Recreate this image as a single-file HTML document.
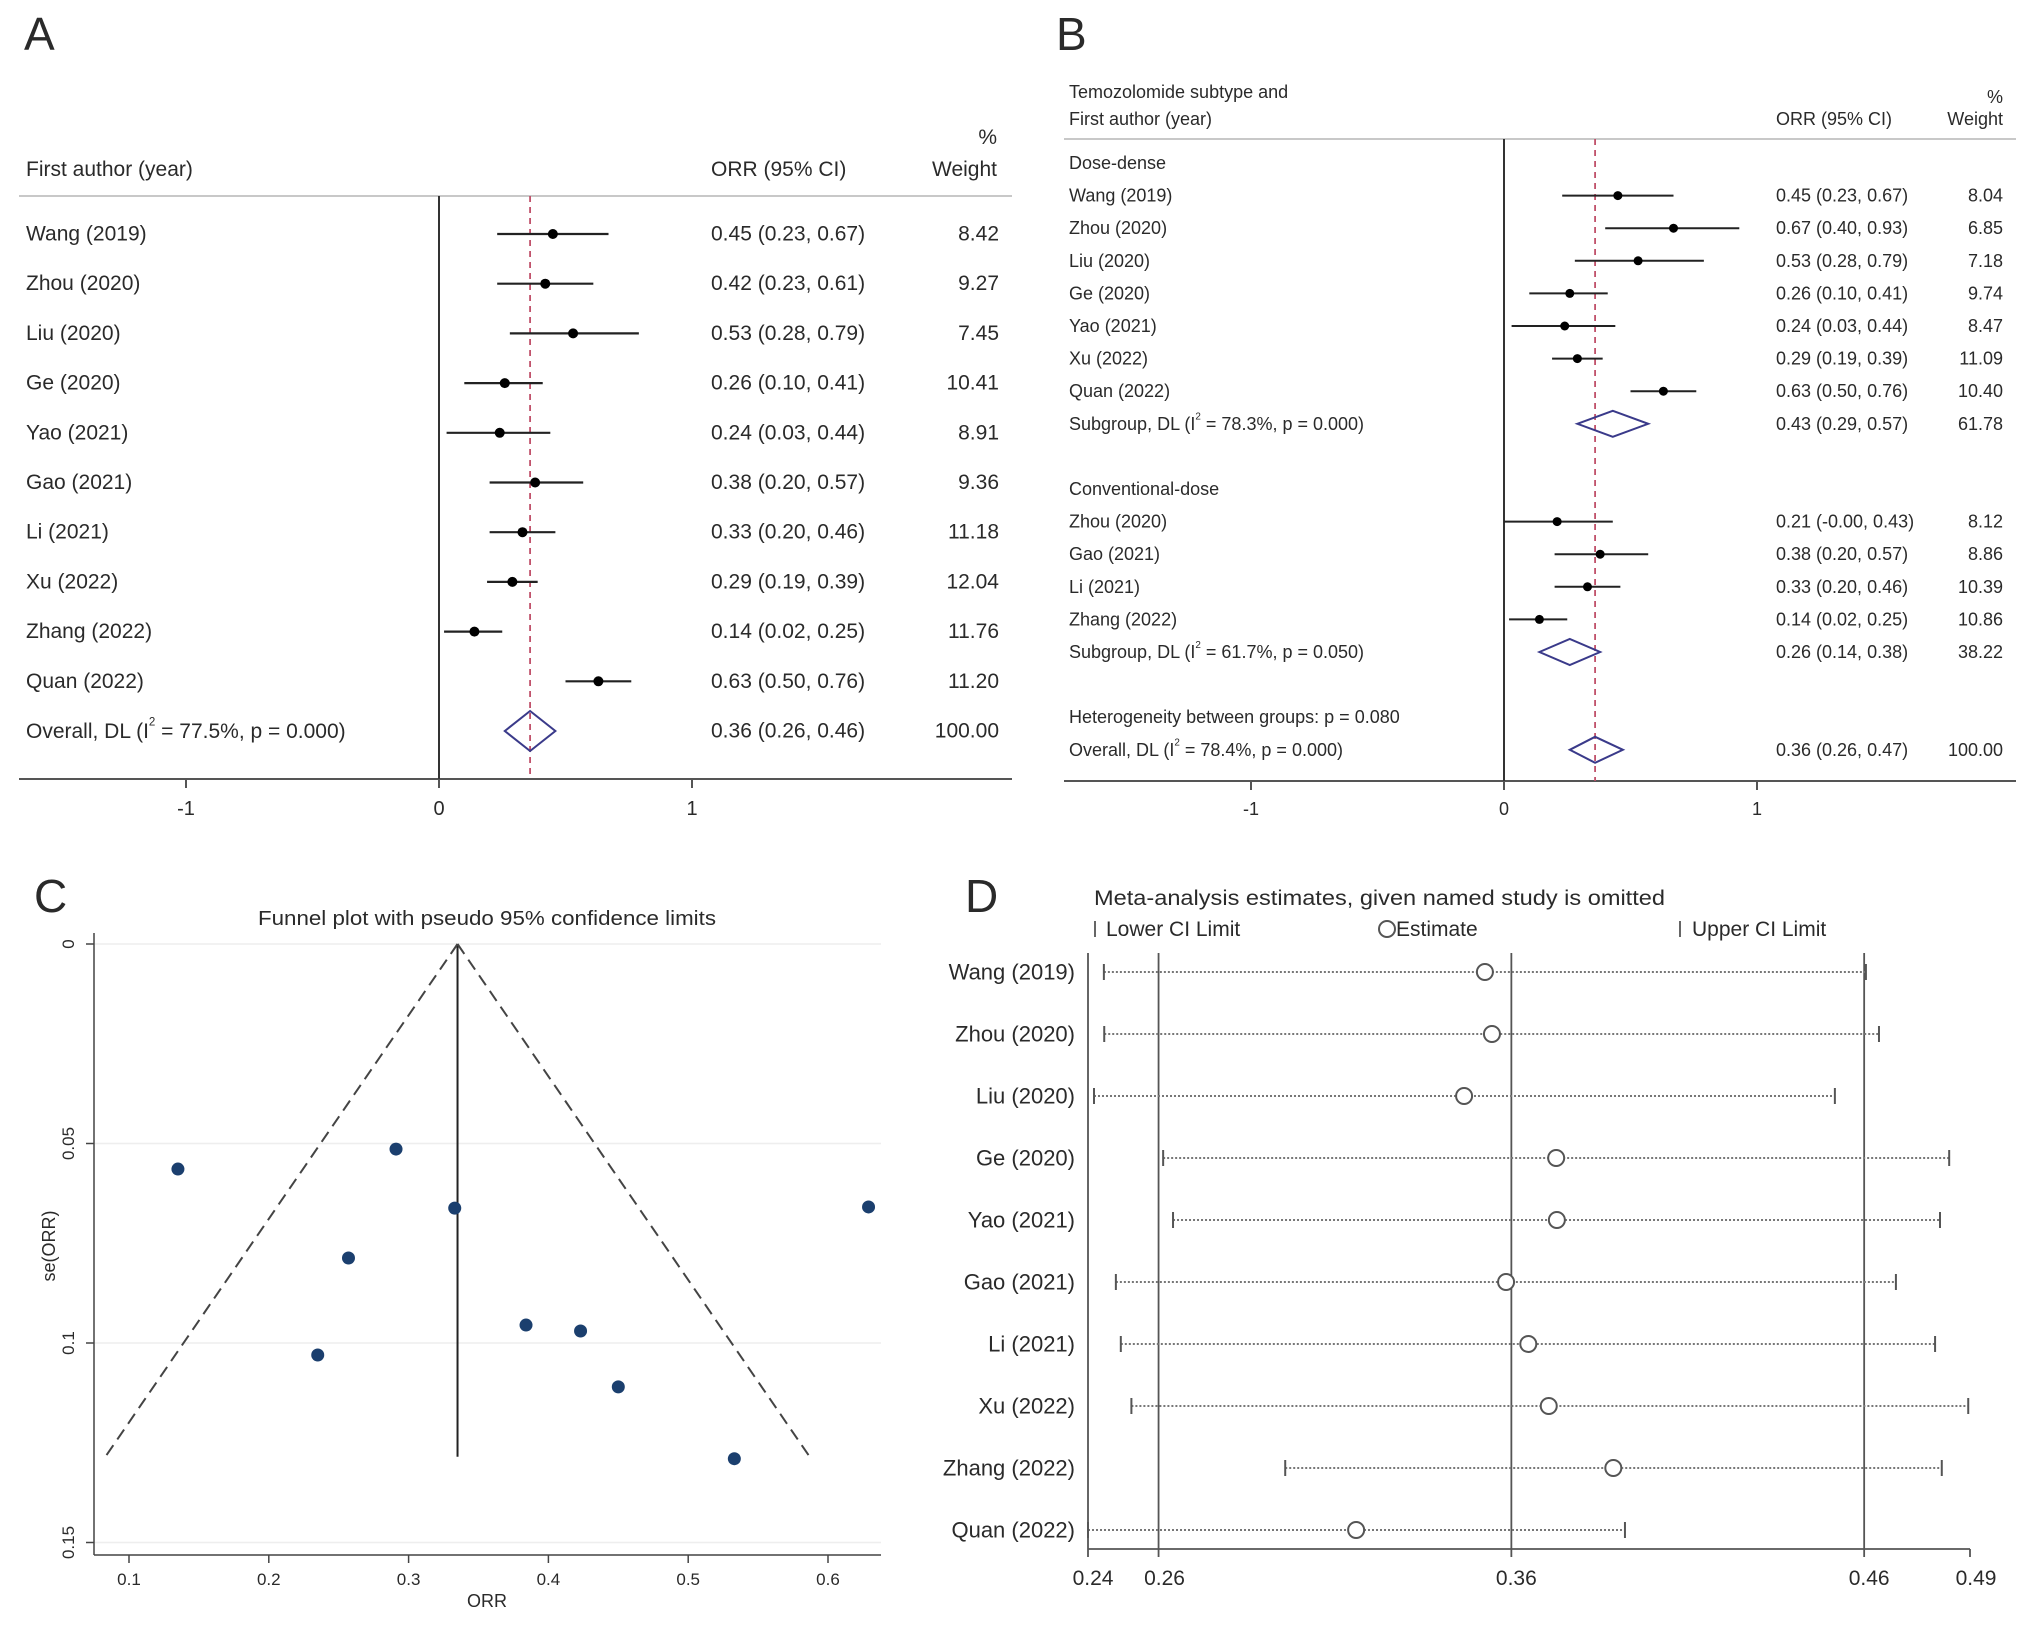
<!DOCTYPE html>
<html><head><meta charset="utf-8">
<style>
html,body{margin:0;padding:0;background:#fff;}
svg{display:block;font-family:"Liberation Sans",Arial,sans-serif;}
text{fill:#2a2a2a;}
</style></head>
<body>
<svg id="fig" width="2031" height="1625" viewBox="0 0 2031 1625" xmlns="http://www.w3.org/2000/svg">
  <rect x="0" y="0" width="2031" height="1625" fill="#fff"/>
  <!-- Panel A static -->
  <g id="pA">
    <text x="24" y="50" font-size="46" fill="#000">A</text>
    <text x="26" y="176" font-size="21">First author (year)</text>
    <text x="711" y="176" font-size="21">ORR (95% CI)</text>
    <text x="997" y="144" font-size="21" text-anchor="end">%</text>
    <text x="997" y="176" font-size="21" text-anchor="end">Weight</text>
    <line x1="19" y1="196" x2="1012" y2="196" stroke="#c8c8c8" stroke-width="2"/>
    <line x1="19" y1="779" x2="1012" y2="779" stroke="#555" stroke-width="2"/>
  </g>
  <!-- Panel B static -->
  <g id="pB">
    <text x="1056" y="50" font-size="46" fill="#000">B</text>
    <text x="1069" y="98" font-size="18">Temozolomide subtype and</text>
    <text x="1069" y="125" font-size="18">First author (year)</text>
    <text x="1776" y="125" font-size="18">ORR (95% CI)</text>
    <text x="2003" y="103" font-size="18" text-anchor="end">%</text>
    <text x="2003" y="125" font-size="18" text-anchor="end">Weight</text>
    <line x1="1064" y1="139" x2="2016" y2="139" stroke="#c8c8c8" stroke-width="2"/>
    <line x1="1064" y1="781" x2="2016" y2="781" stroke="#555" stroke-width="2"/>
  </g>
  <!-- Panel C static -->
  <g id="pC">
    <text x="34" y="912" font-size="46" fill="#000">C</text>
    <text x="487" y="925" font-size="20" text-anchor="middle" textLength="458" lengthAdjust="spacingAndGlyphs">Funnel plot with pseudo 95% confidence limits</text>
    <text x="487" y="1607" font-size="18" text-anchor="middle">ORR</text>
    <text x="0" y="0" font-size="18" text-anchor="middle" transform="translate(55,1246) rotate(-90)">se(ORR)</text>
  </g>
  <!-- Panel D static -->
  <g id="pD">
    <text x="965" y="912" font-size="46" fill="#000">D</text>
    <text x="1094" y="905" font-size="21" textLength="571" lengthAdjust="spacingAndGlyphs">Meta-analysis estimates, given named study is omitted</text>
    <line x1="1095" y1="921" x2="1095" y2="937" stroke="#666" stroke-width="2"/>
    <text x="1106" y="936" font-size="21">Lower CI Limit</text>
    <circle cx="1387" cy="929" r="8" fill="none" stroke="#555" stroke-width="2"/>
    <text x="1396" y="936" font-size="21">Estimate</text>
    <line x1="1680" y1="921" x2="1680" y2="937" stroke="#666" stroke-width="2"/>
    <text x="1692" y="936" font-size="21">Upper CI Limit</text>
  </g>
</svg>
<script>
// ---------- DATA ----------
const aStudies = ["Wang (2019)","Zhou (2020)","Liu (2020)","Ge (2020)","Yao (2021)","Gao (2021)","Li (2021)","Xu (2022)","Zhang (2022)","Quan (2022)"];
const aEst = [0.45,0.42,0.53,0.26,0.24,0.38,0.33,0.29,0.14,0.63];
const aLo  = [0.23,0.23,0.28,0.10,0.03,0.20,0.20,0.19,0.02,0.50];
const aHi  = [0.67,0.61,0.79,0.41,0.44,0.57,0.46,0.39,0.25,0.76];
const aWt  = [8.42,9.27,7.45,10.41,8.91,9.36,11.18,12.04,11.76,11.20];
const aOverall = [0.36,0.26,0.46,100.00];
const aOverallLabel = "77.5%, p = 0.000";
const forestTicks = [-1,0,1];

const b1Studies = ["Wang (2019)","Zhou (2020)","Liu (2020)","Ge (2020)","Yao (2021)","Xu (2022)","Quan (2022)"];
const b1Est = [0.45,0.67,0.53,0.26,0.24,0.29,0.63];
const b1Lo  = [0.23,0.40,0.28,0.10,0.03,0.19,0.50];
const b1Hi  = [0.67,0.93,0.79,0.41,0.44,0.39,0.76];
const b1Wt  = [8.04,6.85,7.18,9.74,8.47,11.09,10.40];
const b1Sub = [0.43,0.29,0.57,61.78];
const b2Studies = ["Zhou (2020)","Gao (2021)","Li (2021)","Zhang (2022)"];
const b2Est = [0.21,0.38,0.33,0.14];
const b2Lo  = [-0.00,0.20,0.20,0.02];
const b2Hi  = [0.43,0.57,0.46,0.25];
const b2Wt  = [8.12,8.86,10.39,10.86];
const b2Sub = [0.26,0.14,0.38,38.22];
const bOverall = [0.36,0.26,0.47,100.00];

const funnelOrr = [0.135,0.291,0.333,0.257,0.235,0.384,0.423,0.450,0.533,0.629];
const funnelSe  = [0.0564,0.0514,0.0662,0.0787,0.103,0.0955,0.097,0.111,0.129,0.0659];
const funnelPooled = 0.335;
const funnelSeMax = 0.1285;
const funnelXTicks = [0.1,0.2,0.3,0.4,0.5,0.6];
const funnelYTicks = [0,0.05,0.1,0.15];

const dStudies = ["Wang (2019)","Zhou (2020)","Liu (2020)","Ge (2020)","Yao (2021)","Gao (2021)","Li (2021)","Xu (2022)","Zhang (2022)","Quan (2022)"];
const dLower = [0.2445,0.2446,0.2417,0.2613,0.2641,0.2479,0.2493,0.2523,0.2959,0.2400];
const dEst   = [0.3525,0.3545,0.3466,0.3727,0.3729,0.3585,0.3648,0.3706,0.3889,0.3160];
const dUpper = [0.4605,0.4642,0.4517,0.4841,0.4815,0.4690,0.4801,0.4895,0.4820,0.3922];
const dRefLines = [0.24,0.26,0.36,0.46];
const dTicks = [0.24,0.26,0.36,0.46,0.49];

// ---------- HELPERS ----------
const NS = "http://www.w3.org/2000/svg";
const svg = document.getElementById("fig");
function mk(tag, attrs, parent){
  const e = document.createElementNS(NS, tag);
  for (const k in attrs) e.setAttribute(k, attrs[k]);
  (parent || svg).appendChild(e);
  return e;
}
function ciText(e,l,h){ return e.toFixed(2)+" ("+l.toFixed(2)+", "+h.toFixed(2)+")"; }
function ciTextNeg(e,l,h){ const f=v=>(v===0 && 1/v<0)||(v<=0 && v>-0.005 && v!==0)?"-0.00":v.toFixed(2); return e.toFixed(2)+" ("+(l<=0?"-"+Math.abs(l).toFixed(2):l.toFixed(2))+", "+h.toFixed(2)+")"; }
function i2Label(parent, x, y, fs, prefix, rest, name){
  const t = mk("text",{x:x,y:y,"font-size":fs,"dominant-baseline":"central"},parent);
  
  
  const s1 = mk("tspan",{},t); s1.textContent = prefix + " (I";
  const s2 = mk("tspan",{"font-size":fs*0.55,dy:-fs*0.4},t); s2.textContent = "2";
  const s3 = mk("tspan",{dy:fs*0.4},t); s3.textContent = " = " + rest + ")";
  return t;
}

// ---------- PANEL A ----------
const gA = document.getElementById("pA");
const xA = v => 439 + v*253;
const yA = i => 234 + i*49.7;
const axA = mk("line",{x1:xA(0),y1:196,x2:xA(0),y2:779,stroke:"#333","stroke-width":2},gA);


const refA = mk("line",{x1:xA(aOverall[0]),y1:196,x2:xA(aOverall[0]),y2:779,stroke:"#c0506a","stroke-width":1.8,"stroke-dasharray":"6,5"},gA);


forestTicks.forEach(t=>{
  const tk = mk("line",{x1:xA(t),y1:779,x2:xA(t),y2:788,stroke:"#555","stroke-width":2},gA);
  
  
  const tl = mk("text",{x:xA(t),y:815,"font-size":20,"text-anchor":"middle"},gA);
  
  
  tl.textContent = String(t);
});
aStudies.forEach((s,i)=>{
  const y = yA(i);
  const lab = mk("text",{x:26,y:y,"font-size":21,"dominant-baseline":"central"},gA);
  
  
  lab.textContent = s;
  const ci = mk("line",{x1:xA(aLo[i]),y1:y,x2:xA(aHi[i]),y2:y,stroke:"#222","stroke-width":2.2},gA);
  
  
  const pt = mk("circle",{cx:xA(aEst[i]),cy:y,r:5,fill:"#000"},gA);
  
  
  const ct = mk("text",{x:711,y:y,"font-size":21,"dominant-baseline":"central"},gA);
  
  
  ct.textContent = ciText(aEst[i],aLo[i],aHi[i]);
  const wt = mk("text",{x:999,y:y,"font-size":21,"text-anchor":"end","dominant-baseline":"central"},gA);
  
  
  wt.textContent = aWt[i].toFixed(2);
});
{
  const y = yA(10);
  i2Label(gA, 26, y, 21, "Overall, DL", aOverallLabel, 'panel-a-overall-label');
  const d = mk("polygon",{points:[xA(aOverall[1])+","+y, xA(aOverall[0])+","+(y-20), xA(aOverall[2])+","+y, xA(aOverall[0])+","+(y+20)].join(" "),fill:"none",stroke:"#3a3a8a","stroke-width":2},gA);
  
  
  const ct = mk("text",{x:711,y:y,"font-size":21,"dominant-baseline":"central"},gA);
  
  
  ct.textContent = ciText(aOverall[0],aOverall[1],aOverall[2]);
  const wt = mk("text",{x:999,y:y,"font-size":21,"text-anchor":"end","dominant-baseline":"central"},gA);
  
  
  wt.textContent = aOverall[3].toFixed(2);
}

// ---------- PANEL B ----------
const gB = document.getElementById("pB");
const xB = v => 1504 + v*253;
const yB = r => 163 + r*32.6;
const axB = mk("line",{x1:xB(0),y1:139,x2:xB(0),y2:781,stroke:"#333","stroke-width":2},gB);


const refB = mk("line",{x1:xB(bOverall[0]),y1:139,x2:xB(bOverall[0]),y2:781,stroke:"#c0506a","stroke-width":1.8,"stroke-dasharray":"6,5"},gB);


forestTicks.forEach(t=>{
  const tk = mk("line",{x1:xB(t),y1:781,x2:xB(t),y2:790,stroke:"#555","stroke-width":2},gB);
  
  
  const tl = mk("text",{x:xB(t),y:815,"font-size":18,"text-anchor":"middle"},gB);
  
  
  tl.textContent = String(t);
});
function bText(x,y,str,name,anchor){
  const t = mk("text",{x:x,y:y,"font-size":18,"dominant-baseline":"central","text-anchor":anchor||"start"},gB);
  
  
  t.textContent = str;
  return t;
}
function bStudies(names, est, lo, hi, wt, row0, grp){
  names.forEach((s,i)=>{
    const y = yB(row0+i);
    bText(1069,y,s,grp+'-study-label');
    const ci = mk("line",{x1:xB(lo[i]),y1:y,x2:xB(hi[i]),y2:y,stroke:"#222","stroke-width":2},gB);
    
    
    const pt = mk("circle",{cx:xB(est[i]),cy:y,r:4.5,fill:"#000"},gB);
    
    
    bText(1776,y,ciTextNeg(est[i],lo[i],hi[i]),grp+'-ci-text');
    bText(2003,y,wt[i].toFixed(2),grp+'-weight',"end");
  });
}
function bDiamond(vals, y, h, name){
  const d = mk("polygon",{points:[xB(vals[1])+","+y, xB(vals[0])+","+(y-h), xB(vals[2])+","+y, xB(vals[0])+","+(y+h)].join(" "),fill:"none",stroke:"#3a3a8a","stroke-width":2},gB);
  
  
}
bText(1069,yB(0),"Dose-dense",'dose-dense-heading');
bStudies(b1Studies,b1Est,b1Lo,b1Hi,b1Wt,1,'dose-dense');
i2Label(gB,1069,yB(8),18,"Subgroup, DL","78.3%, p = 0.000",'dose-dense-subgroup-label');
bDiamond(b1Sub,yB(8),13,'dose-dense-subgroup-diamond');
bText(1776,yB(8),ciText(b1Sub[0],b1Sub[1],b1Sub[2]),'dose-dense-subgroup-ci-text');
bText(2003,yB(8),b1Sub[3].toFixed(2),'dose-dense-subgroup-weight',"end");
bText(1069,yB(10),"Conventional-dose",'conventional-dose-heading');
bStudies(b2Studies,b2Est,b2Lo,b2Hi,b2Wt,11,'conventional-dose');
i2Label(gB,1069,yB(15),18,"Subgroup, DL","61.7%, p = 0.050",'conventional-dose-subgroup-label');
bDiamond(b2Sub,yB(15),13,'conventional-dose-subgroup-diamond');
bText(1776,yB(15),ciText(b2Sub[0],b2Sub[1],b2Sub[2]),'conventional-dose-subgroup-ci-text');
bText(2003,yB(15),b2Sub[3].toFixed(2),'conventional-dose-subgroup-weight',"end");
bText(1069,yB(17),"Heterogeneity between groups: p = 0.080",'heterogeneity-label');
i2Label(gB,1069,yB(18),18,"Overall, DL","78.4%, p = 0.000",'panel-b-overall-label');
bDiamond(bOverall,yB(18),13,'panel-b-overall-diamond');
bText(1776,yB(18),ciText(bOverall[0],bOverall[1],bOverall[2]),'panel-b-overall-ci-text');
bText(2003,yB(18),bOverall[3].toFixed(2),'panel-b-overall-weight',"end");

// ---------- PANEL C (funnel) ----------
const gC = document.getElementById("pC");
const fx = v => 129 + (v-0.1)*1398;
const fy = s => 944 + s*3990;
funnelYTicks.forEach(t=>{
  const g = mk("line",{x1:95,y1:fy(t),x2:881,y2:fy(t),stroke:"#eeeeee","stroke-width":1.5},gC);
  
  
  const tk = mk("line",{x1:86,y1:fy(t),x2:94,y2:fy(t),stroke:"#444","stroke-width":1.5},gC);
  
  
  const tl = mk("text",{x:0,y:0,"font-size":17,"text-anchor":"middle",transform:"translate(74,"+fy(t)+") rotate(-90)"},gC);
  
  
  tl.textContent = String(t);
});
funnelXTicks.forEach(t=>{
  const tk = mk("line",{x1:fx(t),y1:1555,x2:fx(t),y2:1563,stroke:"#444","stroke-width":1.5},gC);
  
  
  const tl = mk("text",{x:fx(t),y:1585,"font-size":17,"text-anchor":"middle"},gC);
  
  
  tl.textContent = String(t);
});
const cYAx = mk("line",{x1:94,y1:933,x2:94,y2:1555,stroke:"#444","stroke-width":1.5},gC);


const cXAx = mk("line",{x1:94,y1:1555,x2:881,y2:1555,stroke:"#444","stroke-width":1.5},gC);


const pooled = mk("line",{x1:fx(funnelPooled),y1:fy(0),x2:fx(funnelPooled),y2:fy(funnelSeMax),stroke:"#222","stroke-width":2},gC);


[-1,1].forEach(sg=>{
  const l = mk("line",{x1:fx(funnelPooled),y1:fy(0),x2:fx(funnelPooled+sg*1.96*funnelSeMax),y2:fy(funnelSeMax),stroke:"#444","stroke-width":2,"stroke-dasharray":"12,7"},gC);
  
  
});
funnelOrr.forEach((v,i)=>{
  const c = mk("circle",{cx:fx(v),cy:fy(funnelSe[i]),r:6.5,fill:"#1b3f6e"},gC);
  
  
});

// ---------- PANEL D (influence) ----------
const gD = document.getElementById("pD");
const dx = v => 1088 + (v-0.24)*3528;
const dy = i => 972 + i*62;
dRefLines.forEach(v=>{
  const l = mk("line",{x1:dx(v),y1:953,x2:dx(v),y2:1549,stroke:"#555","stroke-width":1.8},gD);
  
  
});
const dAx = mk("line",{x1:dx(dTicks[0]),y1:1549,x2:dx(dTicks[dTicks.length-1]),y2:1549,stroke:"#555","stroke-width":1.8},gD);


dTicks.forEach((t,k)=>{
  const tk = mk("line",{x1:dx(t),y1:1549,x2:dx(t),y2:1557,stroke:"#555","stroke-width":1.8},gD);
  
  
  const off = k===0?5:(k===1?6:(k===4?6:5));
  const tl = mk("text",{x:dx(t)+off,y:1585,"font-size":21,"text-anchor":"middle"},gD);
  
  
  tl.textContent = t.toFixed(2);
});
dStudies.forEach((s,i)=>{
  const y = dy(i);
  const lab = mk("text",{x:1075,y:y,"font-size":22,"text-anchor":"end","dominant-baseline":"central"},gD);
  
  
  lab.textContent = s;
  const ln = mk("line",{x1:dx(dLower[i]),y1:y,x2:dx(dUpper[i]),y2:y,stroke:"#777","stroke-width":2,"stroke-dasharray":"2,2"},gD);
  
  
  const lo = mk("line",{x1:dx(dLower[i]),y1:y-8,x2:dx(dLower[i]),y2:y+8,stroke:"#555","stroke-width":2},gD);
  
  
  const up = mk("line",{x1:dx(dUpper[i]),y1:y-8,x2:dx(dUpper[i]),y2:y+8,stroke:"#555","stroke-width":2},gD);
  
  
  const c = mk("circle",{cx:dx(dEst[i]),cy:y,r:8,fill:"#fff",stroke:"#555","stroke-width":2},gD);
  
  
});
</script>
</body></html>
